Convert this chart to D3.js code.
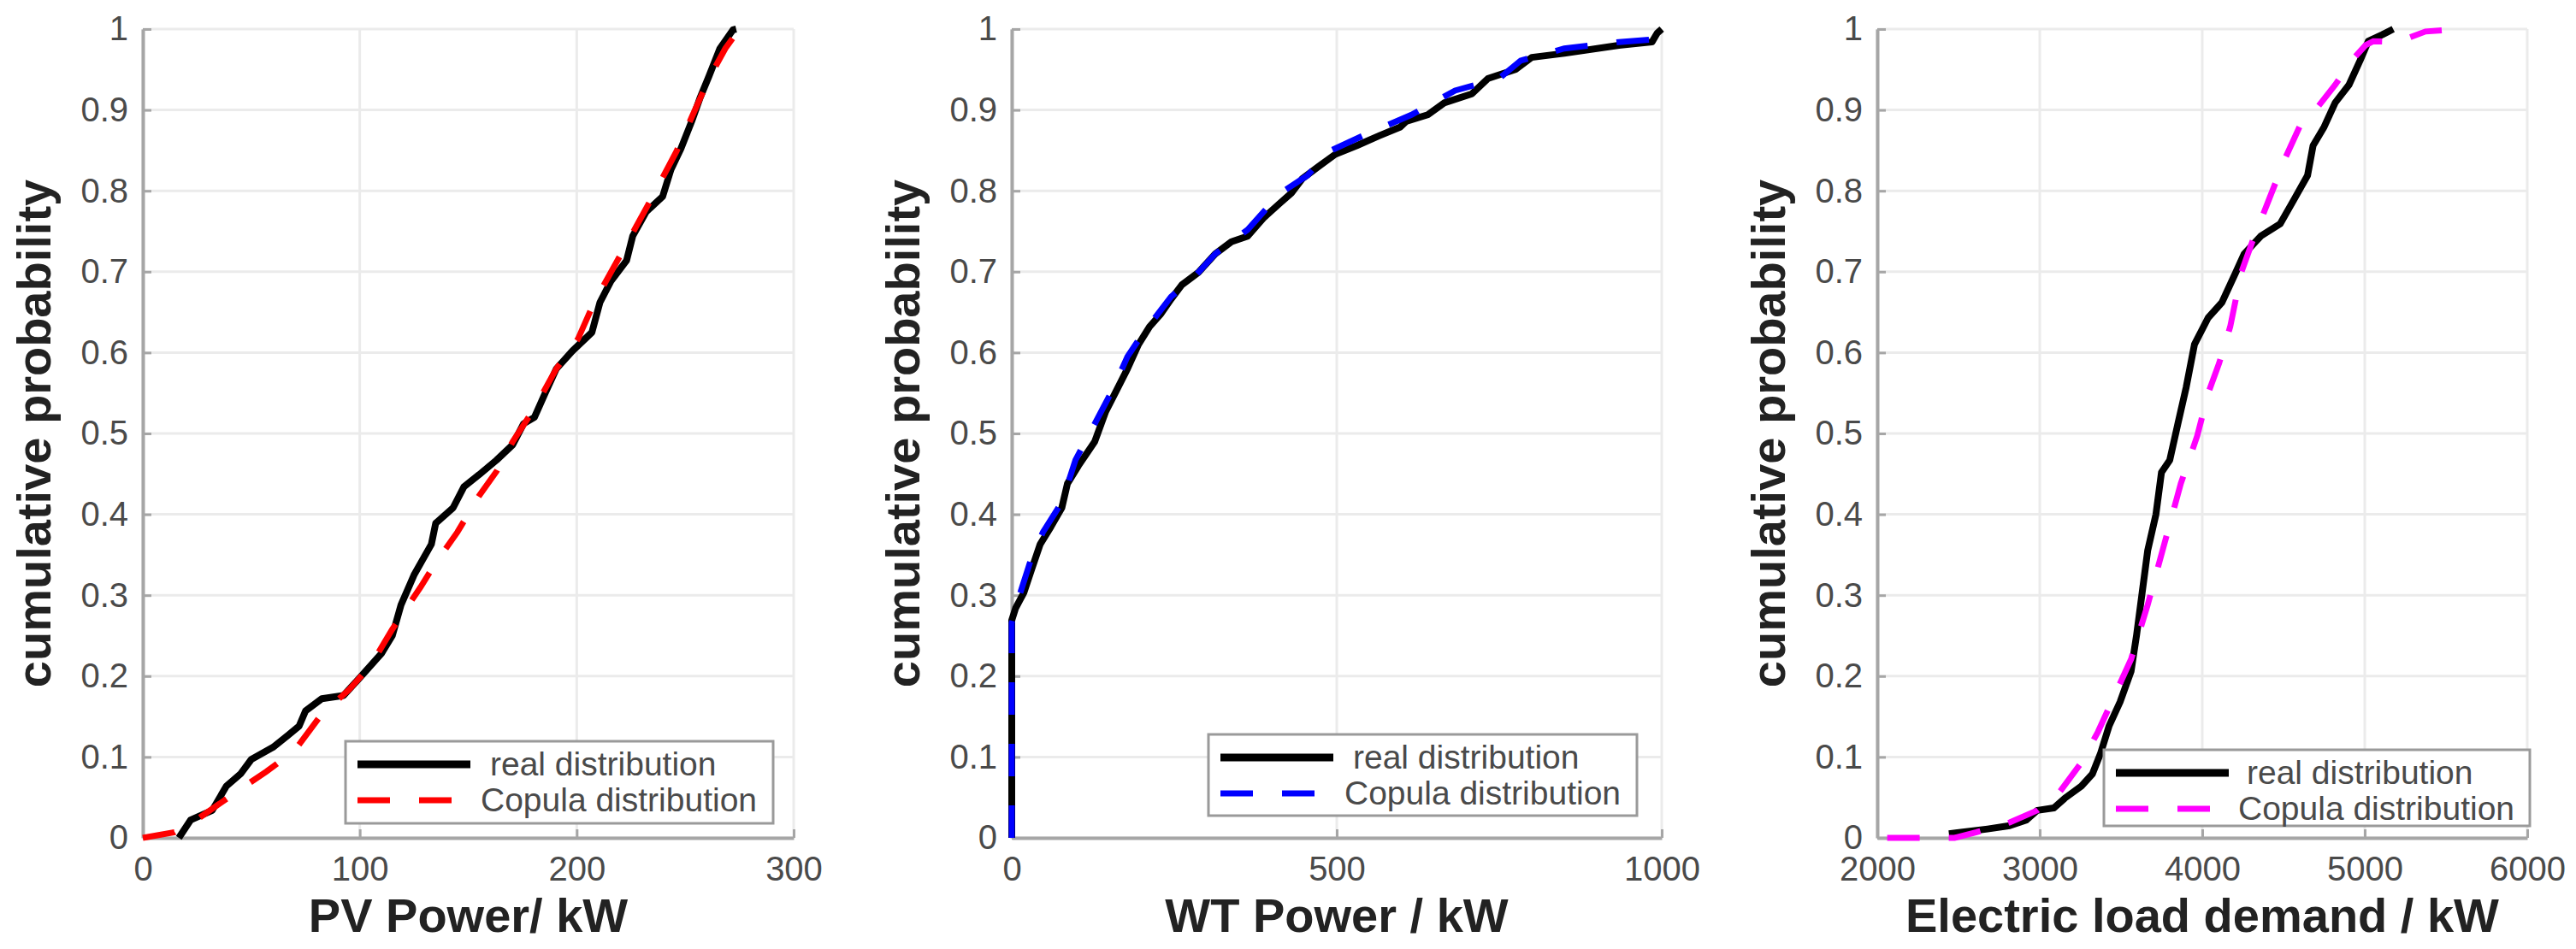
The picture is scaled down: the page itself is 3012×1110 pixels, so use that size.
<!DOCTYPE html>
<html>
<head>
<meta charset="utf-8">
<script src="https://cdn.jsdelivr.net/npm/d3@7"></script>
<style>
  body { margin: 0; background: #ffffff; }
  svg text { font-family: "Liberation Sans", Arial, sans-serif; }
</style>
</head>
<body>
<div id="chart"></div>
<script>
// values: [x, cumulative probability]
var pvReal = [[16.6,0],[22,0.022],[32,0.034],[38.5,0.064],[45,0.079],[50,0.097],[60,0.112],[67,0.127],[72,0.138],[75,0.157],[82.5,0.172],[92.5,0.176],[100,0.198],[110,0.228],[115,0.25],[119,0.288],[125,0.325],[133,0.363],[135,0.389],[143,0.408],[148,0.434],[155,0.449],[163,0.467],[170.5,0.486],[175.5,0.512],[180.5,0.52],[185.5,0.55],[190.6,0.58],[198,0.602],[207,0.625],[210.7,0.662],[215.7,0.688],[223,0.714],[225.8,0.744],[232,0.774],[239.6,0.793],[243.4,0.826],[248,0.852],[253,0.886],[257,0.916],[261,0.942],[266,0.976],[272,0.999],[273.5,1]];
var pvCopula = [[0,0],[14.6,0.007],[24.6,0.022],[34.7,0.041],[47,0.064],[57,0.082],[70,0.108],[82.5,0.153],[95,0.183],[105,0.213],[115,0.258],[128,0.31],[135,0.34],[145,0.378],[155,0.423],[163,0.453],[170.5,0.49],[180.5,0.531],[190.6,0.58],[200.6,0.617],[208,0.662],[215.7,0.699],[225.8,0.748],[235.8,0.797],[246,0.849],[253.5,0.894],[261,0.939],[268.5,0.976],[275,1]];

var wtReal = [[0,0],[0,0.269],[5.9,0.284],[18.5,0.303],[31,0.333],[43.7,0.363],[60.5,0.385],[77,0.408],[85.7,0.438],[102.5,0.46],[127.7,0.49],[144.5,0.527],[161,0.553],[178,0.58],[195,0.61],[212,0.632],[228.6,0.647],[245,0.666],[262,0.684],[287,0.699],[313,0.722],[338,0.737],[363,0.744],[388,0.767],[413,0.785],[430,0.797],[447,0.815],[472,0.83],[497.5,0.845],[531,0.856],[565,0.868],[598,0.879],[607,0.886],[640,0.894],[666,0.909],[708,0.92],[733,0.939],[775,0.95],[800,0.965],[850,0.97],[934,0.98],[985,0.984],[993,0.995],[1000,1]];
var wtCopula = [[0,0],[0,0.266],[10,0.295],[31,0.348],[48,0.378],[77,0.415],[98,0.467],[127.7,0.512],[157,0.557],[178,0.595],[203,0.625],[245,0.669],[279,0.692],[313,0.722],[363,0.752],[413,0.797],[455,0.819],[489,0.849],[548,0.871],[615,0.894],[682,0.924],[750,0.939],[783,0.961],[850,0.976],[934,0.984],[985,0.987],[993,0.995]];

var loadReal = [[2441,0.005],[2679,0.011],[2815,0.015],[2917,0.022],[2985,0.034],[3087,0.037],[3154,0.049],[3256,0.064],[3324,0.079],[3375,0.105],[3426,0.138],[3494,0.168],[3562,0.206],[3596,0.251],[3630,0.303],[3664,0.355],[3715,0.4],[3749,0.452],[3800,0.467],[3850,0.512],[3901,0.557],[3952,0.61],[4036,0.643],[4121,0.662],[4206,0.699],[4258,0.722],[4360,0.744],[4479,0.759],[4564,0.789],[4648,0.819],[4682,0.856],[4750,0.879],[4818,0.909],[4903,0.931],[4971,0.961],[5022,0.985],[5107,0.993],[5175,1]];
var loadCopula = [[2061,0],[2272,0],[2475,0],[2611,0.007],[2815,0.019],[2985,0.034],[3120,0.056],[3256,0.093],[3358,0.131],[3460,0.176],[3562,0.221],[3664,0.288],[3766,0.363],[3868,0.438],[3969,0.497],[4037,0.55],[4104,0.587],[4172,0.632],[4240,0.699],[4308,0.737],[4410,0.789],[4512,0.841],[4614,0.886],[4716,0.905],[4818,0.931],[4920,0.961],[5005,0.98],[5053,0.985],[5200,0.984],[5374,0.997],[5579,1]];

var yTicks = [0,0.1,0.2,0.3,0.4,0.5,0.6,0.7,0.8,0.9,1];
var pvTicks = [0,100,200,300];
var wtTicks = [0,500,1000];
var loadTicks = [2000,3000,4000,5000,6000];

var legendNames = ["real distribution", "Copula distribution"];
var yTitle = "cumulative probability";

var W = 3012, H = 1110;
var svg = d3.select("#chart").append("svg").attr("width", W).attr("height", H).style("background", "#ffffff");

drawPanel({left:167, right:928, domain:[0,300], ticks:pvTicks, real:pvReal, copula:pvCopula, color:"#ff0000",
    title:"PV Power/ kW", legend:{x:404, y:867, w:500, h:96, realX:573, copX:562}});
drawPanel({left:1183, right:1943, domain:[0,1000], ticks:wtTicks, real:wtReal, copula:wtCopula, color:"#0000ff",
    title:"WT Power / kW", legend:{x:1413, y:859, w:501, h:95, realX:1582, copX:1572}});
drawPanel({left:2195, right:2955, domain:[2000,6000], ticks:loadTicks, real:loadReal, copula:loadCopula, color:"#ff00ff",
    title:"Electric load demand / kW", legend:{x:2460, y:877, w:498, h:89, realX:2627, copX:2617}});

function drawPanel(p) {
    var top = 34, bottom = 980;
    var xs = d3.scaleLinear().domain(p.domain).range([p.left, p.right]);
    var ys = d3.scaleLinear().domain([0,1]).range([bottom, top]);
    var g = svg.append("g");

    // grid
    g.selectAll(".hgrid").data(yTicks).enter().append("line")
        .attr("x1", p.left).attr("x2", p.right)
        .attr("y1", d => ys(d)).attr("y2", d => ys(d))
        .attr("stroke", "#ebebeb").attr("stroke-width", 3);
    g.selectAll(".vgrid").data(p.ticks).enter().append("line")
        .attr("x1", d => xs(d)).attr("x2", d => xs(d))
        .attr("y1", top).attr("y2", bottom)
        .attr("stroke", "#ebebeb").attr("stroke-width", 3);

    // axes, ticks pointing inward like matlab
    var ax = g.append("g").attr("transform", "translate(0," + bottom + ")")
        .call(d3.axisBottom(xs).tickValues(p.ticks).tickSize(-10).tickSizeOuter(0).tickPadding(22).tickFormat(d3.format("d")));
    var ay = g.append("g").attr("transform", "translate(" + p.left + ",0)")
        .call(d3.axisLeft(ys).tickValues(yTicks).tickSize(-10).tickSizeOuter(0).tickPadding(17).tickFormat(d => d === 0 || d === 1 ? d : d3.format(".1f")(d)));
    [ax, ay].forEach(function (a) {
        a.select(".domain").attr("stroke", "#a6a6a6").attr("stroke-width", 4);
        a.selectAll(".tick line").attr("stroke", "#a6a6a6").attr("stroke-width", 3);
        a.selectAll(".tick text").attr("fill", "#4a4a4a").attr("font-size", 40)
            .style("font-family", "'Liberation Sans', Arial, sans-serif");
    });

    var line = d3.line().x(d => xs(d[0])).y(d => ys(d[1]));
    g.append("path").attr("d", line(p.real)).attr("fill", "none")
        .attr("stroke", "#000000").attr("stroke-width", 8).attr("stroke-linejoin", "round");
    g.append("path").attr("d", line(p.copula)).attr("fill", "none")
        .attr("stroke", p.color).attr("stroke-width", 7).attr("stroke-dasharray", "38,34");

    // axis titles
    g.append("text").attr("x", (p.left + p.right) / 2).attr("y", 1090)
        .attr("text-anchor", "middle").attr("font-size", 56).attr("font-weight", "bold").attr("fill", "#222222")
        .text(p.title);
    g.append("text").attr("transform", "translate(" + (p.left - 108) + "," + ((top + bottom) / 2) + ") rotate(-90)")
        .attr("text-anchor", "middle").attr("font-size", 56).attr("font-weight", "bold").attr("fill", "#222222")
        .text(yTitle);

    // legend
    var L = p.legend;
    var lg = g.append("g");
    lg.append("rect").attr("x", L.x).attr("y", L.y).attr("width", L.w).attr("height", L.h)
        .attr("fill", "#ffffff").attr("stroke", "#9a9a9a").attr("stroke-width", 3);
    var r1 = L.y + 27, r2 = L.y + 69;
    lg.append("line").attr("x1", L.x + 14).attr("x2", L.x + 146).attr("y1", r1).attr("y2", r1)
        .attr("stroke", "#000000").attr("stroke-width", 9);
    lg.append("line").attr("x1", L.x + 14).attr("x2", L.x + 146).attr("y1", r2).attr("y2", r2)
        .attr("stroke", p.color).attr("stroke-width", 7).attr("stroke-dasharray", "38,34");
    lg.append("text").attr("x", L.realX).attr("y", r1 + 13).attr("font-size", 39).attr("fill", "#4a4a4a").text(legendNames[0]);
    lg.append("text").attr("x", L.copX).attr("y", r2 + 13).attr("font-size", 39).attr("fill", "#4a4a4a").text(legendNames[1]);
}
</script>
</body>
</html>
